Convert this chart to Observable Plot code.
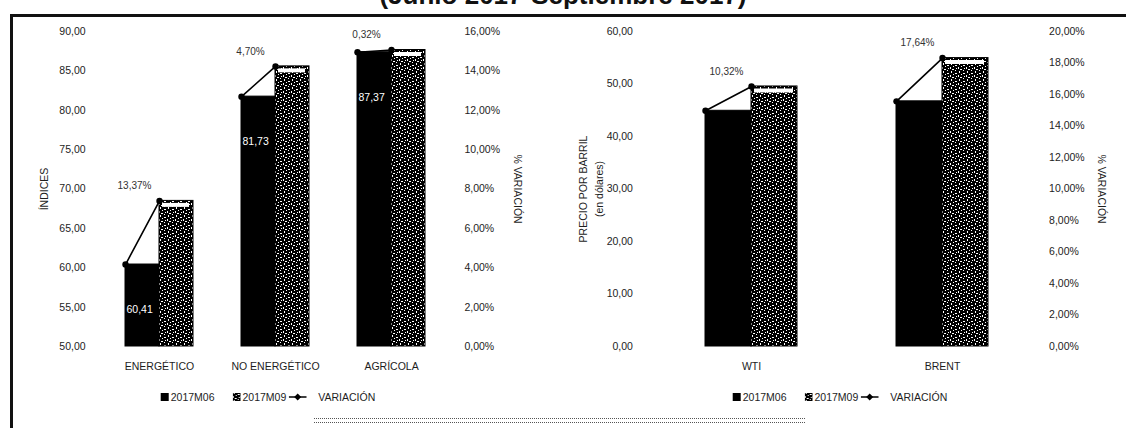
<!DOCTYPE html>
<html>
<head>
<meta charset="utf-8">
<script src="https://cdn.jsdelivr.net/npm/d3@7"></script>
<script src="https://cdn.jsdelivr.net/npm/@observablehq/plot@0.6"></script>
<style>
  html, body { margin: 0; padding: 0; background: #fff; }
  body { width: 1126px; height: 428px; overflow: hidden; position: relative;
         font-family: "Liberation Sans", Arial, sans-serif; color: #1d1d1d; }
  #title { position: absolute; left: 0px; width: 1126px; top: -18px; text-align: center;
           font: bold 26px/26px "Liberation Sans", Arial, sans-serif; white-space: nowrap; color: #111; }
  #frameTop { position: absolute; left: 10px; top: 14px; width: 1116px; height: 3px; background: #111; }
  #frameLeft { position: absolute; left: 10px; top: 14px; width: 3px; height: 414px; background: #111; }
  .panel { position: absolute; top: 16px; }
  .legend { position: absolute; top: 391px; transform: translateX(-50%); white-space: nowrap;
            font-size: 10.5px; display: flex; align-items: center; gap: 2px; color: #1d1d1d; }
  .sw { display: inline-block; width: 8px; height: 8px; }
  .gap { display: inline-block; width: 14px; }
  .gap2 { display: inline-block; width: 8px; }
  #dots { position: absolute; left: 314px; top: 418px; width: 491px; height: 3px;
          border-top: 1px dotted #555; border-bottom: 1px dotted #555; }
</style>
</head>
<body>
<svg width="0" height="0" style="position:absolute">
  <defs>
    <pattern id="speck" width="8" height="8" patternUnits="userSpaceOnUse">
      <rect width="8" height="8" fill="#000"/>
      <rect x="1" y="0" width="1" height="1" fill="#fff"/>
      <rect x="5" y="1" width="2" height="1" fill="#fff"/>
      <rect x="3" y="2" width="1" height="1" fill="#fff"/>
      <rect x="0" y="3" width="1" height="2" fill="#fff"/>
      <rect x="6" y="4" width="1" height="1" fill="#fff"/>
      <rect x="2" y="5" width="2" height="1" fill="#fff"/>
      <rect x="5" y="6" width="1" height="1" fill="#fff"/>
      <rect x="1" y="7" width="1" height="1" fill="#fff"/>
    </pattern>
  </defs>
</svg>
<div id="title">(Junio 2017-Septiembre 2017)</div>
<div id="frameTop"></div>
<div id="frameLeft"></div>
<div id="left" class="panel" style="left:12px"></div>
<div id="right" class="panel" style="left:557px"></div>
<div id="legL" class="legend" style="left:268px"></div>
<div id="legR" class="legend" style="left:840px"></div>
<div id="dots"></div>
<script>
// ---- data ----
const periods = ["2017M06", "2017M09"];
const variationLabel = "VARIACIÓN";

const indexCategories = ["ENERGÉTICO", "NO ENERGÉTICO", "AGRÍCOLA"];
const indexJun = [60.41, 81.73, 87.37];
const indexSep = [68.49, 85.57, 87.65];
const indexVariation = [13.37, 4.70, 0.32];
const indexTicks = [50, 55, 60, 65, 70, 75, 80, 85, 90];
const indexPctTicks = [0, 2, 4, 6, 8, 10, 12, 14, 16];

const oilCategories = ["WTI", "BRENT"];
const oilJun = [44.90, 46.70];
const oilSep = [49.53, 54.94];
const oilVariation = [10.32, 17.64];
const oilTicks = [0, 10, 20, 30, 40, 50, 60];
const oilPctTicks = [0, 2, 4, 6, 8, 10, 12, 14, 16, 18, 20];

// ---- helpers ----
const fmtNum = v => v.toFixed(2).replace(".", ",");
const fmtPct = v => (Math.round(v * 100) / 100).toFixed(2).replace(".", ",") + "%";

function panel(o) {
  const rows = o.cats.flatMap((c, i) => [
    {cat: c, period: periods[0], value: o.jun[i]},
    {cat: c, period: periods[1], value: o.sep[i]}
  ]);
  const varRows = o.cats.map((c, i) => ({cat: c, value: o.sep[i], v: o.variation[i]}));
  const pctToY = d3.scaleLinear([0, o.pctMax], o.yDomain);
  const half = o.halfBar;
  // distance between the frame edge and the outer facet edge (axes are anchored on facets)
  const band = d3.scaleBand(o.cats, [o.marginLeft, o.width - o.marginRight])
    .paddingInner(o.padInner).paddingOuter(o.padOuter);
  const off = band(o.cats[0]) - o.marginLeft;
  const first = o.cats[0], last = o.cats[o.cats.length - 1];
  return Plot.plot({
    width: o.width,
    height: 372,
    marginTop: 15,
    marginBottom: 42,
    marginLeft: o.marginLeft,
    marginRight: o.marginRight,
    style: {fontFamily: "'Liberation Sans', Arial, sans-serif", fontSize: "10.5px", color: "#1d1d1d", background: "transparent"},
    fx: {domain: o.cats, paddingInner: o.padInner, paddingOuter: o.padOuter, label: null,
         axis: "bottom", tickSize: 0, tickPadding: 16},
    x: {domain: periods, padding: 0, axis: null},
    y: {domain: o.yDomain, axis: null},
    marks: [
      Plot.axisY({anchor: "left", ticks: o.yTicks, tickFormat: fmtNum,
                  tickSize: 0, tickPadding: o.leftPad + off, label: null}),
      Plot.axisY({anchor: "right", ticks: o.pctTicks.map(p => pctToY(p)),
                  tickFormat: d => fmtPct(pctToY.invert(d)), tickSize: 0, tickPadding: o.rightPad + off, label: null}),
      Plot.text([o.leftTitle], {fx: () => first, frameAnchor: "left", dx: o.leftTitleDx - off, rotate: -90,
                  textAnchor: "middle", lineAnchor: "middle", fontSize: 10.5, lineHeight: 1.5, fill: "#1d1d1d"}),
      Plot.text([o.rightTitle], {fx: () => last, frameAnchor: "right", dx: o.rightTitleDx + off, rotate: 90,
                  textAnchor: "middle", lineAnchor: "middle", fontSize: 10.5, fill: "#1d1d1d"}),
      Plot.barY(rows, {fx: "cat", x: "period", y: "value", y1: o.yDomain[0],
                  fill: d => d.period === periods[0] ? "#000" : "url(#speck)",
                  stroke: "#000", strokeWidth: 1}),
      Plot.tickY(rows.filter(d => d.period === periods[1]), {fx: "cat", x: "period", y: "value",
                  stroke: "#fff", strokeWidth: 4, dy: 4, insetLeft: 3, insetRight: 4}),
      o.valueLabels ? Plot.text(rows.filter(d => d.period === periods[0]), {fx: "cat", x: "period", y: "value",
                  text: d => fmtNum(d.value), fill: "#fff", textAnchor: "start", dx: -half + 1, dy: 45, fontSize: 10.5}) : null,
      Plot.lineY(rows, {fx: "cat", x: "period", y: "value", dx: -half, stroke: "#000", strokeWidth: 1.6}),
      Plot.dot(rows, {fx: "cat", x: "period", y: "value", dx: -half, r: 3.2, fill: "#000"}),
      Plot.text(varRows, {fx: "cat", x: d => periods[1], y: "value", text: d => fmtPct(d.v),
                  dx: -half - 25, dy: -15, fill: "#333", fontSize: 10})
    ]
  });
}

document.getElementById("left").append(panel({
  cats: indexCategories, jun: indexJun, sep: indexSep, variation: indexVariation,
  yDomain: [50, 90], yTicks: indexTicks, pctTicks: indexPctTicks, pctMax: 16,
  width: 545, marginLeft: 78, marginRight: 97, padInner: 0.416, padOuter: 0.29,
  halfBar: 17, leftPad: 6, rightPad: 5, valueLabels: true,
  leftTitle: "ÍNDICES", leftTitleDx: -49, rightTitle: "% VARIACIÓN", rightTitleDx: 58
}));

document.getElementById("right").append(panel({
  cats: oilCategories, jun: oilJun, sep: oilSep, variation: oilVariation,
  yDomain: [0, 60], yTicks: oilTicks, pctTicks: oilPctTicks, pctMax: 20,
  width: 569, marginLeft: 90, marginRight: 80, padInner: 0.52, padOuter: 0.30,
  halfBar: 23, leftPad: 15, rightPad: 3, valueLabels: false,
  leftTitle: "PRECIO POR BARRIL\n(en dólares)", leftTitleDx: -58, rightTitle: "% VARIACIÓN", rightTitleDx: 55
}));

// legends
function legend(el) {
  const sw = (bg) => `<span class="sw" style="background:${bg}"></span>`;
  const marker = `<svg width="18" height="8" style="display:inline-block"><line x1="0" y1="4" x2="18" y2="4" stroke="#000" stroke-width="1.4"/><path d="M9 0.5 L12.5 4 L9 7.5 L5.5 4Z" fill="#000"/></svg>`;
  el.innerHTML = `${sw("#000")}<span>${periods[0]}</span><span class="gap"></span>` +
                 `<svg width="8" height="8" style="display:inline-block"><rect width="8" height="8" fill="url(#speck)"/></svg><span>${periods[1]}</span>` +
                 `${marker}<span class="gap2"></span><span>${variationLabel}</span>`;
}
legend(document.getElementById("legL"));
legend(document.getElementById("legR"));
</script>
</body>
</html>
